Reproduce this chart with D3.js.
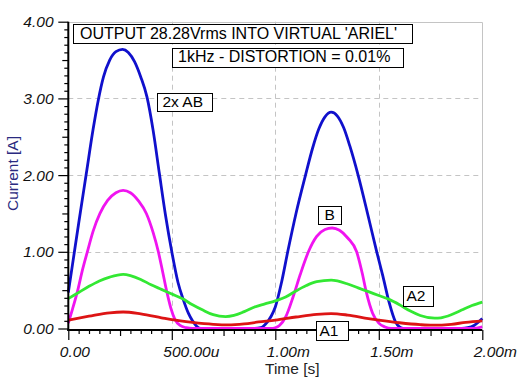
<!DOCTYPE html>
<html>
<head>
<meta charset="utf-8">
<script src="https://cdn.jsdelivr.net/npm/d3@7"></script>
<style>
  html, body { margin: 0; padding: 0; background: #fff; }
  svg { display: block; }
</style>
</head>
<body>
<svg id="chart" width="520" height="390"></svg>
<script>
// ---------------- data (time in ms, current in A) ----------------
const timesAB = [0, 0.02, 0.05, 0.087, 0.12, 0.145, 0.17, 0.2, 0.23, 0.262, 0.29, 0.32, 0.35, 0.38, 0.41, 0.44, 0.47, 0.5, 0.53, 0.555, 0.58, 0.6, 0.62, 0.64, 0.7, 0.8, 0.9, 0.93, 0.95, 0.98, 1.0, 1.03, 1.06, 1.1, 1.146, 1.18, 1.21, 1.24, 1.27, 1.3, 1.33, 1.36, 1.4, 1.45, 1.49, 1.52, 1.55, 1.58, 1.6, 1.62, 1.7, 1.8, 1.9, 1.93, 1.96, 2.0];
const currentAB = [0.47, 0.83, 1.37, 2.02, 2.6, 2.98, 3.28, 3.5, 3.61, 3.64, 3.6, 3.48, 3.28, 3.02, 2.58, 2.02, 1.47, 1.0, 0.6, 0.38, 0.2, 0.1, 0.03, 0, 0, 0, 0, 0.01, 0.05, 0.16, 0.28, 0.6, 1.0, 1.5, 2.0, 2.35, 2.6, 2.76, 2.82, 2.77, 2.62, 2.38, 2.0, 1.45, 1.0, 0.68, 0.34, 0.09, 0.02, 0, 0, 0, 0, 0.01, 0.04, 0.13];

const timesB = [0, 0.02, 0.043, 0.07, 0.092, 0.12, 0.153, 0.19, 0.23, 0.265, 0.3, 0.34, 0.377, 0.41, 0.435, 0.455, 0.475, 0.495, 0.515, 0.54, 0.57, 0.6, 0.8, 0.98, 1.0, 1.02, 1.05, 1.087, 1.12, 1.16, 1.2, 1.24, 1.275, 1.31, 1.35, 1.393, 1.42, 1.44, 1.47, 1.5, 1.53, 1.56, 1.8, 1.95, 2.0];
const currentB = [0.07, 0.25, 0.47, 0.78, 1.0, 1.27, 1.5, 1.67, 1.77, 1.8, 1.77, 1.66, 1.5, 1.25, 1.0, 0.75, 0.49, 0.27, 0.12, 0.04, 0.01, 0, 0, 0, 0.01, 0.04, 0.15, 0.42, 0.7, 1.0, 1.2, 1.29, 1.31, 1.28, 1.18, 1.0, 0.72, 0.47, 0.2, 0.07, 0.02, 0, 0, 0, 0.02];

const timesA2 = [0, 0.05, 0.1, 0.15, 0.2, 0.265, 0.3, 0.35, 0.4, 0.45, 0.5, 0.55, 0.6, 0.65, 0.7, 0.76, 0.8, 0.85, 0.9, 0.95, 1.0, 1.05, 1.1, 1.15, 1.2, 1.27, 1.3, 1.35, 1.4, 1.45, 1.5, 1.55, 1.6, 1.65, 1.7, 1.77, 1.8, 1.85, 1.9, 1.95, 2.0];
const currentA2 = [0.39, 0.47, 0.55, 0.62, 0.67, 0.705, 0.69, 0.64, 0.57, 0.51, 0.45, 0.39, 0.31, 0.24, 0.18, 0.155, 0.17, 0.22, 0.28, 0.32, 0.36, 0.41, 0.49, 0.56, 0.61, 0.63, 0.62, 0.58, 0.53, 0.48, 0.43, 0.38, 0.31, 0.23, 0.17, 0.134, 0.14, 0.18, 0.24, 0.30, 0.345];

const timesA1 = [0, 0.1, 0.2, 0.265, 0.35, 0.45, 0.5, 0.6, 0.7, 0.77, 0.85, 0.92, 1.0, 1.1, 1.2, 1.27, 1.35, 1.45, 1.5, 1.6, 1.7, 1.76, 1.85, 1.92, 2.0];
const currentA1 = [0.11, 0.16, 0.205, 0.215, 0.19, 0.14, 0.115, 0.08, 0.055, 0.047, 0.06, 0.085, 0.11, 0.15, 0.185, 0.195, 0.175, 0.13, 0.11, 0.075, 0.05, 0.043, 0.055, 0.08, 0.1];

const xTickValues = [0, 0.5, 1.0, 1.5, 2.0];
const xTickLabels = ["0.00", "500.00u", "1.00m", "1.50m", "2.00m"];
const yTickValues = [0, 1, 2, 3, 4];
const yTickLabels = ["0.00", "1.00", "2.00", "3.00", "4.00"];

const seriesNames = ["2x AB", "B", "A2", "A1"];
const seriesColors = ["#1010cc", "#f014f0", "#33e833", "#dd1414"];

const titleLines = ["OUTPUT 28.28Vrms INTO VIRTUAL 'ARIEL'", "1kHz - DISTORTION = 0.01%"];
const xTitle = "Time [s]";
const yTitle = "Current [A]";

// ---------------- drawing ----------------
(function () {
const svg = d3.select("#chart");
const pLeft = 68.3, pRight = 482.3, pTop = 21.7, zeroY = 328.5;
const x = d3.scaleLinear().domain([0, 2.0]).range([pLeft, pRight]);
const y = d3.scaleLinear().domain([0, 4]).range([zeroY, pTop]);
const FONT = "'Liberation Sans', Arial, sans-serif";

// grid
const grid = svg.append("g");
grid.selectAll("line.v").data(xTickValues.filter(d => d > 0 && d < 2))
  .join("line")
  .attr("x1", d => Math.round(x(d)) + 0.5).attr("x2", d => Math.round(x(d)) + 0.5)
  .attr("y1", pTop).attr("y2", zeroY)
  .attr("stroke", "#c4c4c4").attr("stroke-dasharray", "5,4");
grid.selectAll("line.h").data(yTickValues.filter(d => d > 0 && d < 4))
  .join("line")
  .attr("y1", d => Math.round(y(d)) + 0.5).attr("y2", d => Math.round(y(d)) + 0.5)
  .attr("x1", pLeft).attr("x2", pRight)
  .attr("stroke", "#c4c4c4").attr("stroke-dasharray", "5,4");
grid.append("path")
  .attr("d", `M${pLeft},${Math.round(pTop) + 0.5}H${Math.round(pRight) + 0.5}V${zeroY}`)
  .attr("fill", "none").attr("stroke", "#c4c4c4").attr("stroke-width", 1);

// curves
const seriesTimes = [timesAB, timesB, timesA2, timesA1];
const seriesValues = [currentAB, currentB, currentA2, currentA1];
const line = d3.line().x(d => x(d[0])).y(d => y(d[1])).curve(d3.curveMonotoneX);
[0, 1, 2, 3].forEach(i => {
  const pts = seriesTimes[i].map((t, k) => [t, seriesValues[i][k]]);
  svg.append("path")
    .datum(pts)
    .attr("d", line)
    .attr("fill", "none")
    .attr("stroke", seriesColors[i])
    .attr("stroke-width", 2.8)
    .attr("stroke-linejoin", "round");
});

// axes
const axisY = zeroY + 1.5;
const gy = svg.append("g").attr("transform", `translate(${pLeft},0)`);
gy.call(d3.axisLeft(y).tickValues(d3.range(0, 41).map(i => i / 10).filter((v, i) => i % 5 !== 0)).tickSize(4).tickSizeOuter(0).tickFormat(""));
gy.select(".domain").remove();
const gy2 = svg.append("g").attr("transform", `translate(${pLeft},0)`);
gy2.call(d3.axisLeft(y).tickValues([0.5, 1.5, 2.5, 3.5]).tickSize(6).tickSizeOuter(0).tickFormat(""));
gy2.select(".domain").remove();
const gy3 = svg.append("g").attr("transform", `translate(${pLeft},0)`);
gy3.call(d3.axisLeft(y).tickValues(yTickValues).tickSize(10).tickSizeOuter(0).tickPadding(4)
  .tickFormat((d, i) => yTickLabels[i]));
gy3.select(".domain").remove();
gy3.selectAll("text").attr("font-family", FONT).attr("font-size", 15.5)
  .attr("font-style", "italic").attr("fill", "#111").attr("x", -14.8);
[gy, gy2, gy3].forEach(g => g.selectAll("line").attr("stroke", "#000").attr("stroke-width", 1.2));

const gx = svg.append("g").attr("transform", `translate(0,${axisY})`);
gx.call(d3.axisBottom(x).tickValues(d3.range(0, 41).map(i => i / 20).filter((v, i) => i % 5 !== 0)).tickSize(4).tickSizeOuter(0).tickFormat(""));
gx.select(".domain").remove();
const gx2 = svg.append("g").attr("transform", `translate(0,${axisY})`);
gx2.call(d3.axisBottom(x).tickValues([0.25, 0.75, 1.25, 1.75]).tickSize(6).tickSizeOuter(0).tickFormat(""));
gx2.select(".domain").remove();
const gx3 = svg.append("g").attr("transform", `translate(0,${axisY})`);
gx3.call(d3.axisBottom(x).tickValues(xTickValues).tickSize(10).tickSizeOuter(0)
  .tickFormat((d, i) => xTickLabels[i]));
gx3.select(".domain").remove();
gx3.selectAll("text").attr("font-family", FONT).attr("font-size", 15.5)
  .attr("font-style", "italic").attr("fill", "#111")
  .attr("text-anchor", "start").attr("dx", -9).attr("y", 26.5).attr("dy", 0);
[gx, gx2, gx3].forEach(g => g.selectAll("line").attr("stroke", "#000").attr("stroke-width", 1.2));

svg.append("line").attr("x1", pLeft).attr("x2", pLeft).attr("y1", pTop).attr("y2", axisY + 1)
  .attr("stroke", "#000").attr("stroke-width", 2);
svg.append("line").attr("x1", pLeft - 1).attr("x2", pRight).attr("y1", axisY).attr("y2", axisY)
  .attr("stroke", "#000").attr("stroke-width", 2);

// axis titles
svg.append("text").attr("x", 265).attr("y", 373.5).text(xTitle)
  .attr("font-family", FONT).attr("font-size", 15.5).attr("fill", "#222");
svg.append("text").attr("transform", "translate(17.5,173.5) rotate(-90)")
  .attr("text-anchor", "middle").text(yTitle)
  .attr("font-family", FONT).attr("font-size", 15.5).attr("fill", "#2a2a80");

// labelled boxes
function box(x0, y0, x1, y1, tx, ty, txt, size) {
  svg.append("rect").attr("x", x0 + 0.5).attr("y", y0 + 0.5)
    .attr("width", x1 - x0).attr("height", y1 - y0)
    .attr("fill", "#fff").attr("stroke", "#000").attr("stroke-width", 1);
  svg.append("text").attr("x", tx).attr("y", ty).text(txt)
    .attr("font-family", FONT).attr("font-size", size).attr("fill", "#000");
}
box(73, 24, 412, 43, 80, 38.5, titleLines[0], 16);
box(172, 48, 403, 67, 178, 62, titleLines[1], 16);
box(157, 93, 212, 111, 162.5, 106.5, seriesNames[0], 15.5);
box(318, 206, 341, 224, 324.5, 219.5, seriesNames[1], 15.5);
box(403, 286, 433, 306, 406.5, 300.5, seriesNames[2], 15.5);
box(316, 321, 348, 340, 319.5, 336, seriesNames[3], 15.5);
})();
</script>
</body>
</html>
